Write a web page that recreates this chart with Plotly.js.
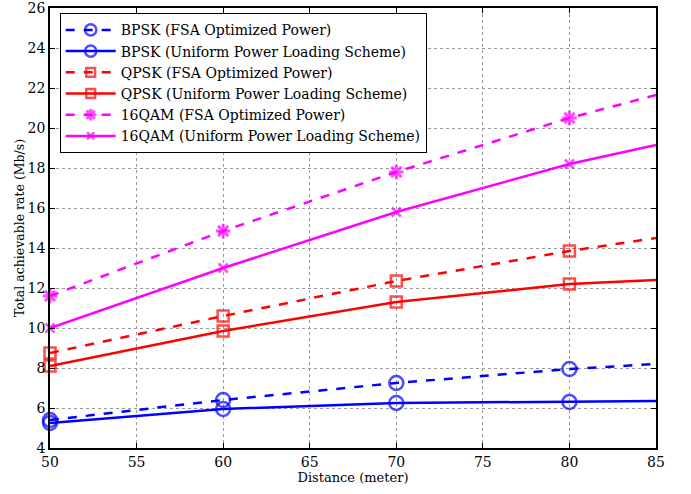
<!DOCTYPE html>
<html><head><meta charset="utf-8">
<script src="https://cdn.plot.ly/plotly-3.0.1.min.js"></script>
<style>body{margin:0;background:#fff}#c{width:691px;height:494px}</style>
</head><body><div id="c"></div>
<script>
const distance = [50, 60, 70, 80, 85];
const bpskFSA = [5.4, 6.4, 7.25, 7.95, 8.2];
const bpskUni = [5.25, 5.95, 6.25, 6.3, 6.35];
const qpskFSA = [8.75, 10.6, 12.35, 13.85, 14.5];
const qpskUni = [8.1, 9.85, 11.3, 12.2, 12.4];
const qamFSA = [11.6, 14.85, 17.8, 20.5, 21.65];
const qamUni = [10.0, 13.0, 15.8, 18.2, 19.15];
const names = ['BPSK (FSA Optimized Power)','BPSK (Uniform Power Loading Scheme)','QPSK (FSA Optimized Power)','QPSK (Uniform Power Loading Scheme)','16QAM (FSA Optimized Power)','16QAM (Uniform Power Loading Scheme)'];

const msz = [1,1,1,1,0];
function tr(y, name, color, dash, symbol, size, lw){
  return {x: distance, y: y, name: name, type:'scatter', mode:'lines+markers', cliponaxis:false,
    line:{color:color, width:2.5, dash:dash},
    marker:{symbol:symbol, size: msz.map(v=>v*size), color:color, line:{color:color, width:lw||2.5}}};
}
const data = [
  tr(bpskFSA, names[0], '#0000ff', 'dash', 'circle-open', 14),
  tr(bpskUni, names[1], '#0000ff', 'solid', 'circle-open', 14),
  tr(qpskFSA, names[2], '#ff0000', 'dash', 'square-open', 11),
  tr(qpskUni, names[3], '#ff0000', 'solid', 'square-open', 11),
  tr(qamFSA, names[4], '#ff00ff', 'dash', 'asterisk-open', 12, 3),
  tr(qamUni, names[5], '#ff00ff', 'solid', 'x-thin-open', 9),
];
const F = 'DejaVu Serif, serif';
const layout = {
  width:691, height:494,
  margin:{l:50, r:35, t:8, b:46},
  paper_bgcolor:'#fff', plot_bgcolor:'#fff',
  font:{family:F, size:14, color:'#000'},
  showlegend:true,
  legend:{x:0.016, y:0.988, xanchor:'left', yanchor:'top', bgcolor:'#fff', bordercolor:'#000', borderwidth:1,
    font:{family:F, size:14}, tracegroupgap:0, itemwidth:50},
  xaxis:{range:[50,85], tickvals:[50,55,60,65,70,75,80,85], ticks:'inside', ticklen:5, tickcolor:'#000',
    showline:true, linecolor:'#000', linewidth:1.5, mirror:'ticks', zeroline:false,
    showgrid:true, gridcolor:'#999', griddash:'dot', gridwidth:1, ticklabeloverflow:'allow',
    title:{text:'Distance (meter)', font:{size:13}, standoff:3}},
  yaxis:{range:[4,26], tickvals:[4,6,8,10,12,14,16,18,20,22,24,26], ticks:'inside', ticklen:5, tickcolor:'#000',
    showline:true, linecolor:'#000', linewidth:1.5, mirror:'ticks', zeroline:false,
    showgrid:true, gridcolor:'#999', griddash:'dot', gridwidth:1, ticklabeloverflow:'allow',
    title:{text:'Total achievable rate (Mb/s)', font:{size:12.5}, standoff:0}}
};
Plotly.newPlot('c', data, layout, {displayModeBar:false});
</script></body></html>
